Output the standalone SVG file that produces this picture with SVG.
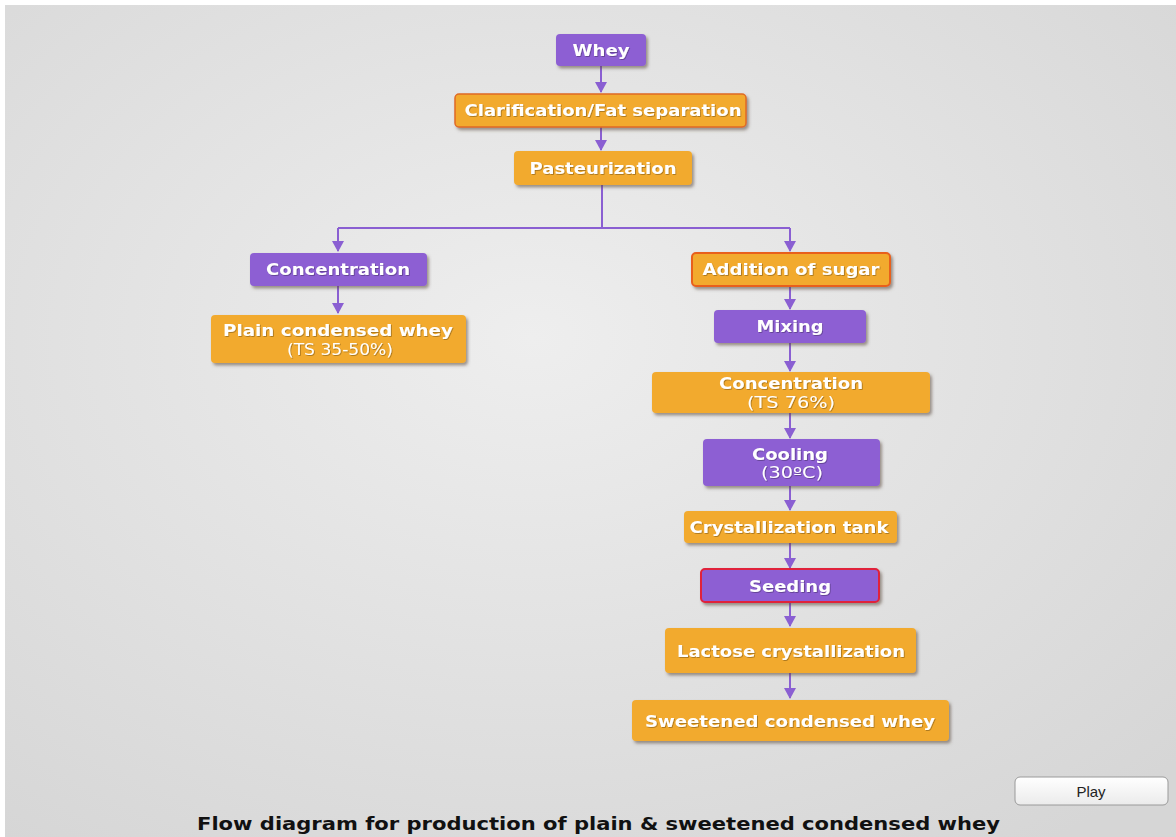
<svg xmlns="http://www.w3.org/2000/svg" width="1176" height="837" viewBox="0 0 1176 837">
<defs>
<radialGradient id="bg" cx="0.45" cy="0.4" r="0.75">
<stop offset="0" stop-color="#eeeeee"/>
<stop offset="1" stop-color="#d6d6d6"/>
</radialGradient>
<linearGradient id="btn" x1="0" y1="0" x2="0" y2="1">
<stop offset="0" stop-color="#ffffff"/>
<stop offset="1" stop-color="#ebebeb"/>
</linearGradient>
<filter id="sh" x="-10%" y="-20%" width="125%" height="160%">
<feDropShadow dx="2" dy="2.5" stdDeviation="1.5" flood-color="#5a4a3a" flood-opacity="0.55"/>
</filter>
<filter id="ts" x="-5%" y="-20%" width="110%" height="150%">
<feDropShadow dx="0.8" dy="0.8" stdDeviation="0.6" flood-color="#000" flood-opacity="0.35"/>
</filter>
<marker id="ahd" markerWidth="12" markerHeight="12" refX="6" refY="10" orient="0" markerUnits="userSpaceOnUse" viewBox="0 0 12 12">
<path d="M0,0 L12,0 L6,11 Z" fill="#8a5fd2"/>
</marker>
</defs>
<style>
.p{fill:#8d5fd3;filter:url(#sh)}
.o{fill:#f2aa2f;filter:url(#sh)}
.t{font-family:"DejaVu Sans",Verdana,sans-serif;font-weight:bold;font-size:16px;fill:#ffffff;text-anchor:middle;filter:url(#ts)}
.s{font-family:"DejaVu Sans",Verdana,sans-serif;font-size:16px;fill:#ffffff;text-anchor:middle;filter:url(#ts)}
.c{stroke:#8a5fd2;stroke-width:2;fill:none}
</style>
<rect x="0" y="0" width="1176" height="837" fill="#ffffff"/>
<rect x="5" y="5" width="1171" height="832" fill="url(#bg)"/>

<g id="connectors">
<path class="c" d="M601,66 V92" marker-end="url(#ahd)"/>
<path class="c" d="M601,127 V150" marker-end="url(#ahd)"/>
<path class="c" d="M602,185 V228"/>
<path class="c" d="M338,228 H790"/>
<path class="c" d="M338,228 V251" marker-end="url(#ahd)"/>
<path class="c" d="M790,228 V251" marker-end="url(#ahd)"/>
<path class="c" d="M338,286 V313" marker-end="url(#ahd)"/>
<path class="c" d="M790,286 V309" marker-end="url(#ahd)"/>
<path class="c" d="M790,343 V371" marker-end="url(#ahd)"/>
<path class="c" d="M790,413 V438" marker-end="url(#ahd)"/>
<path class="c" d="M790,486 V510" marker-end="url(#ahd)"/>
<path class="c" d="M790,542 V568" marker-end="url(#ahd)"/>
<path class="c" d="M790,602 V626" marker-end="url(#ahd)"/>
<path class="c" d="M790,673 V698" marker-end="url(#ahd)"/>
</g>

<g id="whey">
<rect class="p" x="556" y="34" width="90" height="32" rx="4"/>
<text class="t" x="601" y="56" textLength="57" lengthAdjust="spacingAndGlyphs">Whey</text>
</g>
<g id="clarification">
<rect class="o" x="455" y="94" width="291" height="33" rx="4" stroke="#e06a25" stroke-width="1.5"/>
<text class="t" x="603" y="116" textLength="277" lengthAdjust="spacingAndGlyphs">Clarification/Fat separation</text>
</g>
<g id="pasteurization">
<rect class="o" x="514" y="151" width="178" height="34" rx="4"/>
<text class="t" x="603" y="174" textLength="147" lengthAdjust="spacingAndGlyphs">Pasteurization</text>
</g>
<g id="concentration-left">
<rect class="p" x="250" y="253" width="177" height="33" rx="4"/>
<text class="t" x="338" y="275" textLength="144" lengthAdjust="spacingAndGlyphs">Concentration</text>
</g>
<g id="plain-condensed-whey">
<rect class="o" x="211" y="315" width="255" height="48" rx="4"/>
<text class="t" x="338" y="336" textLength="230" lengthAdjust="spacingAndGlyphs">Plain condensed whey</text>
<text class="s" x="340" y="355" textLength="106" lengthAdjust="spacingAndGlyphs">(TS 35-50%)</text>
</g>
<g id="addition-of-sugar">
<rect class="o" x="692" y="253" width="198" height="33" rx="4" stroke="#e8601e" stroke-width="2"/>
<text class="t" x="791" y="275" textLength="177" lengthAdjust="spacingAndGlyphs">Addition of sugar</text>
</g>
<g id="mixing">
<rect class="p" x="714" y="310" width="152" height="33" rx="4"/>
<text class="t" x="790" y="332" textLength="67" lengthAdjust="spacingAndGlyphs">Mixing</text>
</g>
<g id="concentration-right">
<rect class="o" x="652" y="372" width="278" height="41" rx="4"/>
<text class="t" x="791" y="389" textLength="144" lengthAdjust="spacingAndGlyphs">Concentration</text>
<text class="s" x="791" y="408" textLength="88" lengthAdjust="spacingAndGlyphs">(TS 76%)</text>
</g>
<g id="cooling">
<rect class="p" x="703" y="439" width="177" height="47" rx="4"/>
<text class="t" x="790" y="460" textLength="76" lengthAdjust="spacingAndGlyphs">Cooling</text>
<text class="s" x="792" y="478" textLength="62" lengthAdjust="spacingAndGlyphs">(30ºC)</text>
</g>
<g id="crystallization-tank">
<rect class="o" x="684" y="511" width="213" height="32" rx="4"/>
<text class="t" x="789" y="533" textLength="199" lengthAdjust="spacingAndGlyphs">Crystallization tank</text>
</g>
<g id="seeding">
<rect class="p" x="701" y="569" width="178" height="33" rx="4" stroke="#e0203a" stroke-width="2"/>
<text class="t" x="790" y="592" textLength="82" lengthAdjust="spacingAndGlyphs">Seeding</text>
</g>
<g id="lactose-crystallization">
<rect class="o" x="665" y="628" width="251" height="45" rx="4"/>
<text class="t" x="791" y="657" textLength="228" lengthAdjust="spacingAndGlyphs">Lactose crystallization</text>
</g>
<g id="sweetened-condensed-whey">
<rect class="o" x="632" y="700" width="317" height="41" rx="4"/>
<text class="t" x="790" y="727" textLength="290" lengthAdjust="spacingAndGlyphs">Sweetened condensed whey</text>
</g>

<g id="play-button">
<rect x="1015" y="777" width="153" height="28" rx="5" fill="url(#btn)" stroke="#9a9a9a" stroke-width="1"/>
<text x="1091" y="797" font-family="Liberation Sans,Arial,sans-serif" font-size="15" fill="#222" text-anchor="middle">Play</text>
</g>
<text x="197" y="830" font-family="DejaVu Sans Condensed,'DejaVu Sans',sans-serif" font-weight="bold" font-size="18" fill="#111" textLength="803" lengthAdjust="spacingAndGlyphs">Flow diagram for production of plain &amp; sweetened condensed whey</text>
</svg>
